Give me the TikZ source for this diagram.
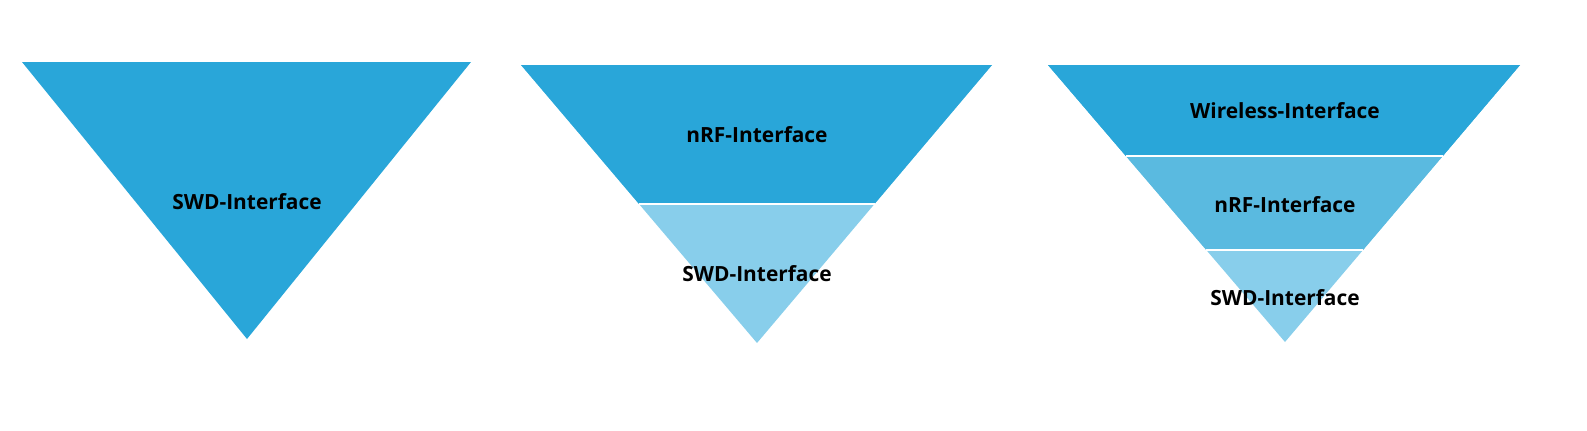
\documentclass[tikz,border=0pt]{standalone}
\usepackage{fontspec}
\setmainfont{Open Sans}
\usetikzlibrary{calc}
\definecolor{darkblue}{HTML}{29A6D9}
\definecolor{midblue}{HTML}{5ABAE0}
\definecolor{lightblue}{HTML}{88CEEB}
\tikzset{
	%Define style for the layer labels
	layer/.style={
		font=\fontsize{11.9}{14}\selectfont\bfseries,
		text=black,
		inner sep=0pt},
	%Define style for the cut between layers
	cut/.style={
		draw=white,
		line width=1.5pt}
}
\begin{document}
\begin{tikzpicture}[x=0.02cm, y=-0.02cm]
	\useasboundingbox (0,0) rectangle (1587,430);
	
	% first funnel: one layer
	\coordinate (aL) at (22,62);
	\coordinate (aR) at (471,62);
	\coordinate (aA) at (247,339);
	\fill[darkblue] (aL) -- (aR) -- (aA) -- cycle;
	\node[layer] (aswd) at (247,202) {SWD-Interface};
	
	% second funnel: two layers
	\coordinate (bL) at (521,65);
	\coordinate (bR) at (992,65);
	\coordinate (bA) at (757,343);
	\coordinate (bl1) at ($(bL)!0.5!(bA)$);
	\coordinate (br1) at ($(bR)!0.5!(bA)$);
	\fill[lightblue] (bL) -- (bR) -- (bA) -- cycle;
	\fill[darkblue] (bL) -- (bR) -- (br1) -- (bl1) -- cycle;
	\draw[cut] (bl1) -- (br1);
	\node[layer] (bnrf) at (757,135) {nRF-Interface};
	\node[layer] (bswd) at (757,274) {SWD-Interface};
	
	% third funnel: three layers
	\coordinate (cL) at (1048,65);
	\coordinate (cR) at (1520,65);
	\coordinate (cA) at (1285,342);
	\coordinate (cl1) at ($(cL)!0.3285!(cA)$);
	\coordinate (cr1) at ($(cR)!0.3285!(cA)$);
	\coordinate (cl2) at ($(cL)!0.668!(cA)$);
	\coordinate (cr2) at ($(cR)!0.668!(cA)$);
	\fill[lightblue] (cL) -- (cR) -- (cA) -- cycle;
	\fill[midblue] (cL) -- (cR) -- (cr2) -- (cl2) -- cycle;
	\fill[darkblue] (cL) -- (cR) -- (cr1) -- (cl1) -- cycle;
	\draw[cut] (cl1) -- (cr1);
	\draw[cut] (cl2) -- (cr2);
	\node[layer] (cwir) at (1285,111) {Wireless-Interface};
	\node[layer] (cnrf) at (1285,205) {nRF-Interface};
	\node[layer] (cswd) at (1285,298) {SWD-Interface};
	
\end{tikzpicture}
\end{document}
